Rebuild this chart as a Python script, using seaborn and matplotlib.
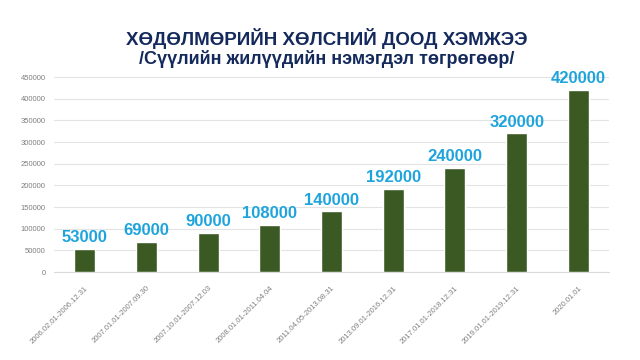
import pandas as pd
import matplotlib
matplotlib.use("Agg")
import matplotlib.pyplot as plt
import seaborn as sns

# -------------------------
# Data
# -------------------------
periods = [
    "2006.02.01-2006.12.31",
    "2007.01.01-2007.09.30",
    "2007.10.01-2007.12.03",
    "2008.01.01-2011.04.04",
    "2011.04.05-2013.08.31",
    "2013.09.01-2016.12.31",
    "2017.01.01-2018.12.31",
    "2019.01.01-2019.12.31",
    "2020.01.01",
]
wages = [53000, 69000, 90000, 108000, 140000, 192000, 240000, 320000, 420000]

title_main = "ХӨДӨЛМӨРИЙН ХӨЛСНИЙ ДООД ХЭМЖЭЭ"
title_sub = "/Сүүлийн жилүүдийн нэмэгдэл төгрөгөөр/"

df = pd.DataFrame({"period": periods, "wage": wages})

# -------------------------
# Plot
# -------------------------
sns.set_style("white")
plt.rcParams["font.family"] = ["Liberation Sans", "DejaVu Sans"]

fig = plt.figure(figsize=(6.4, 3.6), dpi=100)
ax = fig.add_axes([0.084, 0.244, 0.868, 0.542])

sns.barplot(data=df, x="period", y="wage", color="#3b5a23", width=0.34,
            saturation=1, ax=ax, zorder=3)

ax.set_ylim(0, 450000)
ax.set_yticks(range(0, 450001, 50000))
ax.yaxis.grid(True, color="#e3e3e3", linewidth=0.8, zorder=0)
ax.set_xlabel("")
ax.set_ylabel("")
for s in ["top", "right", "left"]:
    ax.spines[s].set_visible(False)
ax.spines["bottom"].set_color("#d9d9d9")
ax.tick_params(axis="y", labelsize=5.5, colors="#7f7f7f", length=0, pad=6)
ax.tick_params(axis="x", labelsize=5.5, colors="#7f7f7f", length=0, pad=9)
plt.setp(ax.get_xticklabels(), rotation=45, ha="right", rotation_mode="anchor")

for i, v in enumerate(wages):
    ax.text(i, v + 9000, f"{v}", ha="center", va="bottom", fontsize=12,
            fontweight="bold", color="#1ea4dc", zorder=4)

fig.text(0.51, 0.893, title_main, ha="center", va="center", fontsize=13.5,
         fontweight="bold", color="#14295c")
fig.text(0.51, 0.837, title_sub, ha="center", va="center", fontsize=13,
         fontweight="bold", color="#14295c")

fig.savefig("out.png", dpi=100)
